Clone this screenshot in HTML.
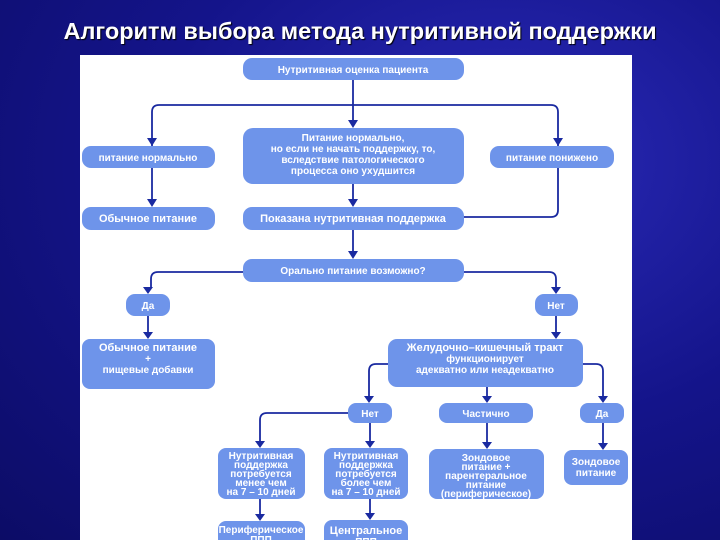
<!DOCTYPE html>
<html><head><meta charset="utf-8"><style>
html,body{margin:0;padding:0}
body{width:720px;height:540px;overflow:hidden;background:radial-gradient(ellipse at 70% 30%,#2a2ab8 0%,#14148a 50%,#0c0c66 100%);position:relative;font-family:"Liberation Sans","DejaVu Sans",sans-serif}
.t{position:absolute;left:0;width:720px;top:18px;text-align:center;color:#fff;font-weight:bold;font-size:23.5px;text-shadow:1px 1px 1px #000;white-space:nowrap}
svg{position:absolute;left:0;top:0}
svg text{font-family:"Liberation Sans","DejaVu Sans",sans-serif;font-weight:bold;fill:#fff;font-size:10px;text-anchor:middle}
</style></head><body>
<div class="t">Алгоритм выбора метода нутритивной поддержки</div>
<svg width="720" height="540" viewBox="0 0 720 540">
<rect x="80" y="55" width="552" height="485" fill="#fff"/>
<g fill="none" stroke="#1a2aa0" stroke-width="1.8">
<path d="M353,80 V120"/>
<path d="M152,146 V112 Q152,105 159,105 H551 Q558,105 558,112 V146"/>
<path d="M152,168 V200"/>
<path d="M353,184 V200"/>
<path d="M558,168 V210 Q558,217 551,217 H464"/>
<path d="M353,230 V252"/>
<path d="M243,272 H158 Q151,272 151,279 V288"/>
<path d="M464,272 H549 Q556,272 556,279 V288"/>
<path d="M148,316 V333"/>
<path d="M556,316 V333"/>
<path d="M388,364 H376 Q369,364 369,371 V397"/>
<path d="M583,364 H596 Q603,364 603,371 V397"/>
<path d="M487,387 V397"/>
<path d="M348,413 H267 Q260,413 260,420 V442"/>
<path d="M370,423 V442"/>
<path d="M487,423 V443"/>
<path d="M603,423 V444"/>
<path d="M260,499 V515"/>
<path d="M370,499 V514"/>
</g>
<g fill="#1a2aa0">
<path d="M348,120 h10 l-5,8z"/><path d="M147,138 h10 l-5,8z"/><path d="M553,138 h10 l-5,8z"/>
<path d="M147,199 h10 l-5,8z"/><path d="M348,199 h10 l-5,8z"/><path d="M348,251 h10 l-5,8z"/>
<path d="M143,287 h10 l-5,7z"/><path d="M551,287 h10 l-5,7z"/>
<path d="M143,332 h10 l-5,7z"/><path d="M551,332 h10 l-5,7z"/>
<path d="M364,396 h10 l-5,7z"/><path d="M482,396 h10 l-5,7z"/><path d="M598,396 h10 l-5,7z"/>
<path d="M255,441 h10 l-5,7z"/><path d="M365,441 h10 l-5,7z"/><path d="M482,442 h10 l-5,7z"/><path d="M598,443 h10 l-5,7z"/>
<path d="M255,514 h10 l-5,7z"/><path d="M365,513 h10 l-5,7z"/>
</g>
<g fill="#6e94ea">
<rect x="243" y="58" width="221" height="22" rx="9"/>
<rect x="82" y="146" width="133" height="22" rx="9"/>
<rect x="243" y="128" width="221" height="56" rx="10"/>
<rect x="490" y="146" width="124" height="22" rx="9"/>
<rect x="82" y="207" width="133" height="23" rx="9"/>
<rect x="243" y="207" width="221" height="23" rx="9"/>
<rect x="243" y="259" width="221" height="23" rx="9"/>
<rect x="126" y="294" width="44" height="22" rx="9"/>
<rect x="535" y="294" width="43" height="22" rx="9"/>
<rect x="82" y="339" width="133" height="50" rx="8"/>
<rect x="388" y="339" width="195" height="48" rx="9"/>
<rect x="348" y="403" width="44" height="20" rx="8"/>
<rect x="439" y="403" width="94" height="20" rx="8"/>
<rect x="580" y="403" width="44" height="20" rx="8"/>
<rect x="218" y="448" width="87" height="51" rx="8"/>
<rect x="324" y="448" width="84" height="51" rx="8"/>
<rect x="429" y="449" width="115" height="50" rx="8"/>
<rect x="564" y="450" width="64" height="35" rx="8"/>
<rect x="218" y="521" width="87" height="36" rx="8"/>
<rect x="324" y="520" width="84" height="37" rx="8"/>
</g>
<text x="353" y="73">Нутритивная оценка пациента</text>
<text x="148" y="161">питание нормально</text>
<text x="353" y="141">Питание нормально,</text>
<text x="353" y="152">но если не начать поддержку, то,</text>
<text x="353" y="163">вследствие патологического</text>
<text x="353" y="174">процесса оно ухудшится</text>
<text x="552" y="161">питание понижено</text>
<text x="148" y="222" style="font-size:11px">Обычное питание</text>
<text x="353" y="222" style="font-size:11px">Показана нутритивная поддержка</text>
<text x="353" y="274">Орально питание возможно?</text>
<text x="148" y="309">Да</text>
<text x="556" y="309">Нет</text>
<text x="148" y="351" style="font-size:11px">Обычное питание</text>
<text x="148" y="362">+</text>
<text x="148" y="373">пищевые добавки</text>
<text x="485" y="351" style="font-size:11px">Желудочно–кишечный тракт</text>
<text x="485" y="362">функционирует</text>
<text x="485" y="373">адекватно или неадекватно</text>
<text x="370" y="417">Нет</text>
<text x="486" y="417">Частично</text>
<text x="602" y="417">Да</text>
<g style="font-size:9px">
<text x="261" y="459">Нутритивная</text><text x="261" y="468">поддержка</text><text x="261" y="477">потребуется</text><text x="261" y="486">менее чем</text><text x="261" y="495">на 7 – 10 дней</text>
<text x="366" y="459">Нутритивная</text><text x="366" y="468">поддержка</text><text x="366" y="477">потребуется</text><text x="366" y="486">более чем</text><text x="366" y="495">на 7 – 10 дней</text>
<text x="486" y="461">Зондовое</text><text x="486" y="470">питание +</text><text x="486" y="479">парентеральное</text><text x="486" y="488">питание</text><text x="486" y="497">(периферическое)</text>
<text x="261" y="533">Периферическое</text><text x="261" y="543">ППП</text>
</g>
<text x="596" y="465">Зондовое</text><text x="596" y="476">питание</text>
<text x="366" y="534" style="font-size:11px">Центральное</text><text x="366" y="545">ППП</text>
</svg>
</body></html>
